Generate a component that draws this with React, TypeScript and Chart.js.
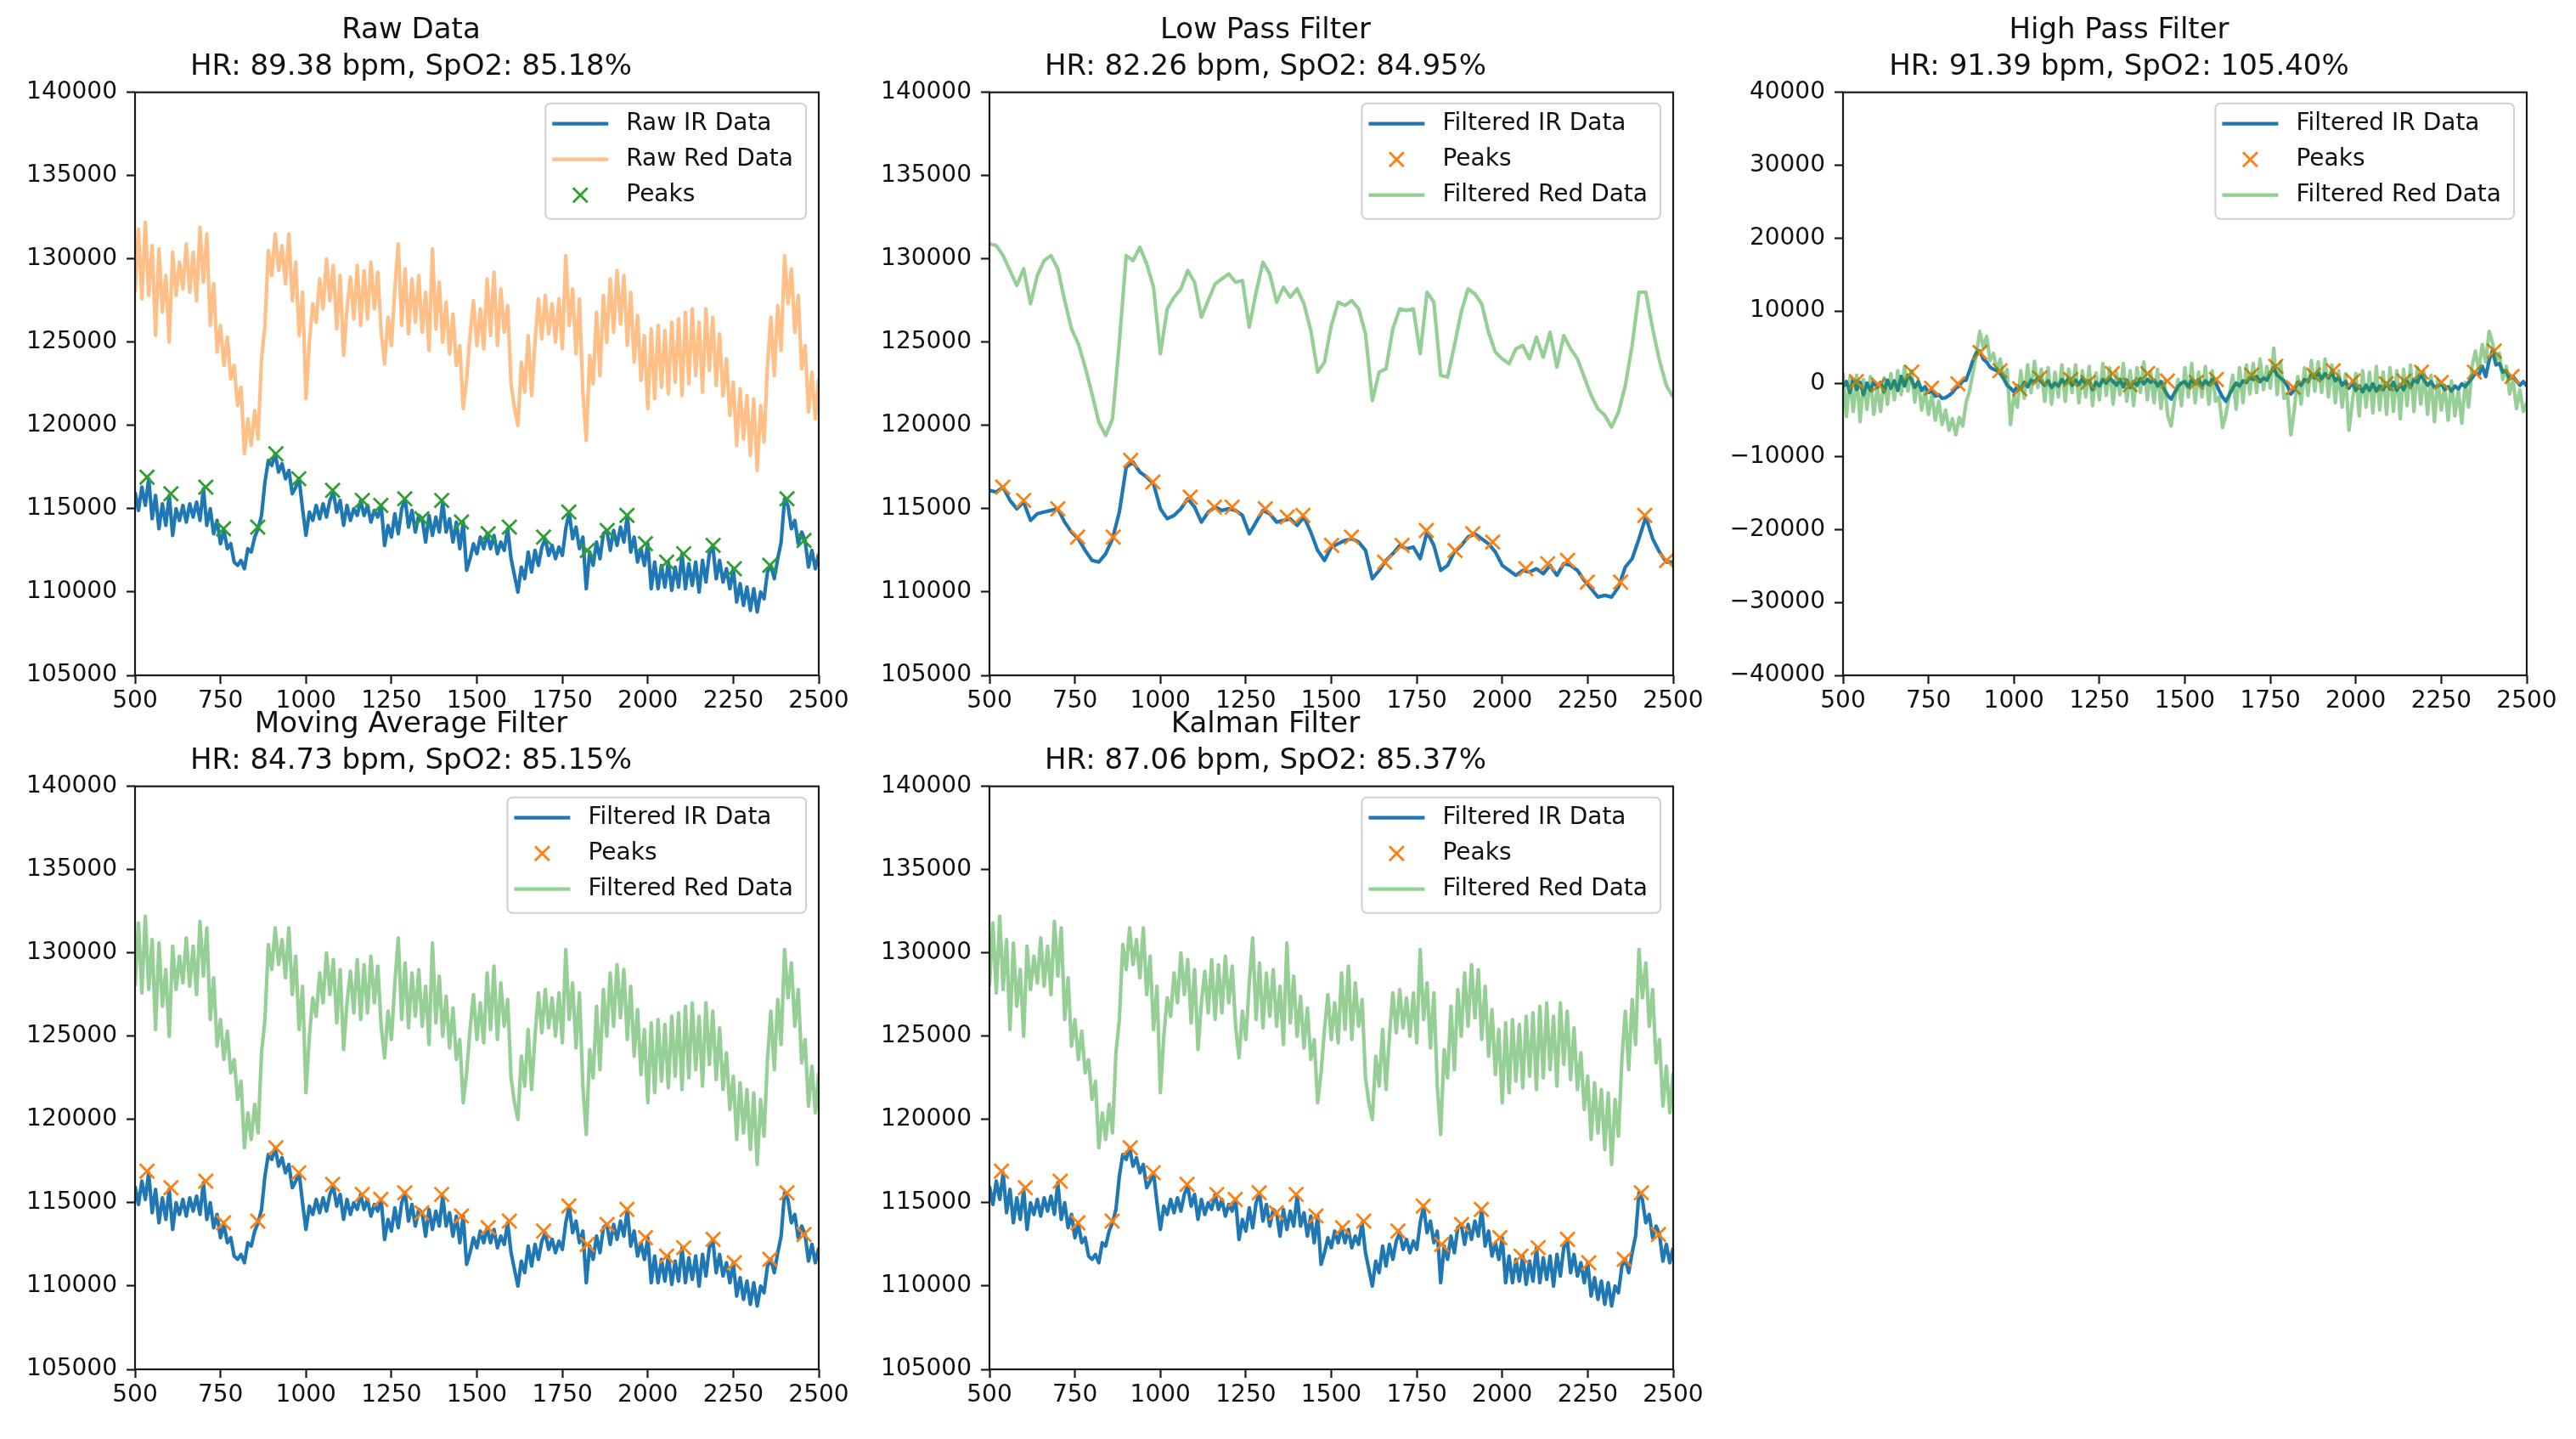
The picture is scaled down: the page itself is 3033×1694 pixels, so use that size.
import { useEffect, useRef } from "react";
import Chart from "chart.js/auto";

const FONT = "'DejaVu Sans', sans-serif";

// sample index of the first stored value
const SAMPLE_START = 500;

// raw IR, one value every 10 samples (500..2500)
const rawIr = [
  116000, 114900, 116300, 115200, 116800, 114400, 115800, 113800, 115300, 114000,
  115800, 113400, 115000, 114300, 115200, 114200, 115300, 114500, 115400, 114300,
  116200, 114000, 115000, 113500, 114300, 112900, 113700, 112600, 112900, 111800,
  111600, 111900, 111400, 112600, 112400, 113300, 113800, 114600, 116600, 117900,
  117600, 118300, 117200, 117700, 116800, 117300, 115900, 116300, 116800, 115000,
  113400, 114800, 114300, 115200, 114400, 115300, 114500, 115500, 116000, 114800,
  115500, 114000, 115200, 114300, 115000, 114600, 115500, 114600, 115200, 114200,
  114900, 114500, 115200, 112800, 114000, 113300, 114700, 113500, 115000, 115600,
  113900, 114900, 113600, 114600, 114400, 113000, 114600, 113400, 114500, 113600,
  115400, 113600, 114400, 113000, 114200, 112600, 114200, 111300, 112000, 112900,
  112300, 113300, 112600, 113500, 112600, 113400, 112300, 113000, 112500, 113800,
  112000, 111000, 110000, 111500, 110800, 112400, 111200, 112500, 111600, 112700,
  113200, 112200, 112800, 112000, 112700, 112200, 113800, 114800, 113200, 113900,
  112600, 113300, 110200, 112400, 111600, 113000, 112000, 113500, 113700, 112500,
  113700, 112800, 113900, 113000, 114600, 112400, 113300, 111800, 112600, 111600,
  112900, 110200, 111800, 110200, 111600, 110300, 111800, 110100, 111500, 110300,
  112300, 110200, 111700, 110400, 111800, 110000, 111900, 110600, 112300, 112800,
  110800, 111900, 110600, 111400, 110200, 111400, 109400, 110500, 109200, 110300,
  108900, 110200, 108800, 110000, 109600, 111200, 111600, 110800, 112000, 113000,
  115600, 115200, 113800, 114300, 112900, 113600, 113100, 111500, 112500, 111400,
  112300,
];

// raw red, one value every 10 samples
const rawRed = [
  128000, 131800, 127600, 132200, 127800, 130800, 125400, 130600, 126800, 129000,
  125000, 130400, 127800, 129800, 128200, 130900, 128000, 130400, 127500, 131900,
  128600, 131500, 126000, 128500, 124400, 126000, 123600, 125300, 122800, 123600,
  121200, 122300, 118300, 120400, 118800, 120900, 119200, 124000, 126000, 130500,
  129000, 131500, 129300, 130800, 128500, 131500, 127500, 129800, 125400, 128000,
  121600, 125000, 127300, 126200, 128800, 127000, 130000, 127500, 129600, 125800,
  129000, 124200, 127000, 128900, 126400, 129600, 126000, 129300, 126400, 129800,
  127000, 129200, 125600, 123700, 126500, 124800, 128200, 130900, 126000, 129400,
  125500, 128800, 126200, 129000, 125600, 128000, 124500, 130600, 125800, 128600,
  125000, 127400, 124300, 126700, 123600, 124800, 121000, 122800, 125400, 127500,
  124800, 127000, 124600, 128800, 125400, 129200, 124800, 128200, 125600, 127200,
  122500, 121000, 120000, 123800, 122000, 125400, 121800, 125000, 127600, 125200,
  127800, 125500, 127300, 125000, 127600, 124600, 130200, 126000, 128200, 124300,
  127600, 122000, 119100, 124200, 122500, 126800, 123000, 127800, 125000, 128800,
  125600, 129300, 126100, 129000, 124800, 128000, 123800, 126600, 122700, 125400,
  121000, 125800, 121600, 126000, 122300, 125700, 121900, 126200, 122600, 126400,
  121800, 126800, 122500, 127000, 123000, 126200, 122000, 127000, 123300, 126500,
  122400, 125500, 121800, 124000, 120600, 122600, 118800, 122200, 119200, 121800,
  118200, 121600, 117300, 121200, 119000, 123600, 126500, 123000, 127200, 124500,
  130200, 127300, 129400, 125600, 127800, 123400, 124800, 120800, 123200, 120400,
  122800,
];

const rawPeakX = [535, 605, 707, 759, 859, 912, 979, 1078, 1165, 1219, 1289, 1339, 1397, 1455, 1533, 1595, 1695, 1769, 1823, 1881, 1939, 1993, 2055, 2105, 2191, 2253, 2357, 2407, 2457];
const rawPeakY = [116900, 115900, 116300, 113800, 113900, 118300, 116800, 116100, 115500, 115200, 115600, 114400, 115500, 114200, 113500, 113900, 113300, 114800, 112500, 113700, 114600, 112900, 111800, 112300, 112800, 111400, 111600, 115600, 113100];

// low pass, one value every 20 samples
const lowIr = [
  116100, 116000, 116300, 115500, 115000, 115400, 114300, 114700, 114800, 114900,
  115000, 114200, 113600, 113200, 112500, 111900, 111800, 112300, 113200, 114800,
  117500, 117800, 117200, 116900, 116500, 115000, 114400, 114600, 115000, 115600,
  115100, 114200, 114800, 115100, 114900, 115000, 114900, 114600, 113500, 114200,
  114900, 114700, 114200, 114300, 114400, 114000, 114500, 113600, 112500, 111900,
  112700, 112900, 113100, 113200, 113000, 112500, 110800, 111300, 111900, 112300,
  112800, 112600, 112700, 112000, 113600, 112800, 111300, 111600, 112400, 112800,
  113300, 113500, 113200, 112900, 112400, 111600, 111300, 111000, 111300, 111200,
  111400, 111100, 111600, 111000, 111700, 111600, 111300, 110700, 110200, 109700,
  109800, 109700, 110300, 111500, 112000, 113200, 114500, 113200, 112400, 111800,
  111800,
];

const lowRed = [
  130900, 130800, 130200, 129300, 128400, 129400, 127300, 129000, 129900, 130200,
  129400, 127500, 125800, 124900, 123500, 121900, 120200, 119400, 120400, 125000,
  130200, 129900, 130700, 129700, 128300, 124300, 127000, 127700, 128200, 129300,
  128600, 126500, 127500, 128500, 128800, 129100, 128600, 128700, 125900, 128000,
  129800, 129100, 127400, 128300, 127700, 128200, 127300, 125700, 123200, 123800,
  126000, 127400, 127200, 127500, 127000, 125500, 121500, 123200, 123400, 125800,
  127000, 126900, 127000, 124300, 128000, 127400, 123000, 122900, 124800, 126800,
  128200, 127900, 127300, 125600, 124400, 124000, 123700, 124600, 124800, 124000,
  125300, 124100, 125600, 123500, 125400, 124600, 124000, 122900, 121800, 121000,
  120600, 119900, 120800, 122400, 124800, 128000, 128000, 125800, 123900, 122400,
  121700,
];

const lowPeakX = [539, 600, 700, 758, 862, 913, 978, 1087, 1158, 1210, 1307, 1371, 1417, 1501, 1559, 1656, 1707, 1778, 1862, 1914, 1972, 2069, 2133, 2191, 2249, 2346, 2417, 2481];
const lowPeakY = [116300, 115500, 115000, 113300, 113300, 117900, 116600, 115700, 115100, 115100, 115000, 114500, 114600, 112800, 113300, 111800, 112800, 113700, 112500, 113500, 113000, 111400, 111700, 111900, 110600, 110600, 114600, 111900];

// high pass, one value every 10 samples
const highIr = [
  -400, 300, -1200, 600, -800, 200, -1500, 100, -900, 300,
  -500, 200, -1100, 500, -600, 400, -900, 1000, -300, 1200,
  600, -500, 300, -900, -400, -1200, -1000, -1700, -1500, -2000,
  -1900, -1600, -1200, -600, -300, 400, 500, 1800, 3200, 4300,
  4500, 3400, 3000, 2300, 2000, 1800, 1400, 700, -200, -600,
  -1100, -300, -700, 200, -400, 500, 200, 800, 300, -200,
  400, -500, 100, -300, 600, 0, 800, -200, 500, -100,
  700, 0, 400, -800, 200, -300, 600, 100, 800, 300,
  -200, 600, -400, 500, -500, 300, -200, 700, 0, 600,
  200, 500, -300, 300, -800, -1600, -2100, -1200, -400, 100,
  300, -400, 500, 0, 600, -300, 400, -100, 600, 200,
  -900, -1800, -2400, -1500, -600, 100, -300, 400, 200, 900,
  600, 1000, 300, 800, 500, 1500, 2200, 1200, 800, 400,
  -300, -1400, -800, 200, -200, 600, 300, 1200, 800, 1500,
  700, 1400, 800, 1600, 400, 900, -200, 300, -600, 200,
  -900, -300, -1100, -200, -900, 0, -1000, -300, -800, 100,
  -700, 200, -900, -100, -800, 300, -500, 600, 200, 1200,
  500, -200, 300, -500, -300, 0, -800, -400, -1000, -300,
  -700, 0, -400, 200, 800, 1500, 1200, 2400, 1000, 3200,
  4600, 2600, 2800, 1600, 1800, 700, 1000, 400, -200, 300,
  -300,
];

const highRed = [
  1500, -4500, 800, -3800, 1200, -5200, 600, -3500, 1000, -4200,
  -500, -3800, 800, -2800, 1400, -2200, 1800, -1500, 2400, -1000,
  1800, -2500, 500, -3600, -800, -4200, -1500, -5000, -2400, -5600,
  -3600, -6400, -4800, -7000, -4600, -5800, -2600, -1000, 1500, 4000,
  7200, 5000, 6500, 3200, 4200, 1800, 3400, 600, 2000, -5600,
  -1500, -3200, 1800, -2000, 2600, -1200, 3100, -500, 2000, -2400,
  2200, -2800, 1600, -1800, 2600, -2400, 2000, -1200, 2600, -2600,
  1800, -1800, 2400, -3000, 1500, -2200, 2800, -1600, 2200, -2800,
  1600, -1500, 2800, -2400, 1800, -3000, 2200, -1200, 3000, -2200,
  1600, -2600, 2000, -3400, 400, -4400, -5800, -2200, 600, -3000,
  2200, -1800, 2800, -2600, 1600, -1800, 2400, -2800, 1800, -2400,
  -1800, -6000, -4200, -1500, 1200, -3500, 2200, -2600, 2600, -1400,
  2800, -1200, 3400, -800, 2400, -600, 4900, -1500, 3000, -2000,
  -1400, -7000, -3600, 1000, -2800, 2200, -1600, 3200, -1000, 3000,
  -1200, 3400, -1800, 2600, -2600, 1800, -3200, 1400, -6400, -2400,
  1400, -4400, 1800, -3200, 1600, -4000, 2400, -3600, 1600, -4200,
  2200, -3800, 1800, -4800, 2000, -3000, 2600, -3800, 2200, -2800,
  1600, -4200, 1200, -5200, 600, -3600, -200, -5000, 400, -4400,
  -800, -5400, 200, -3200, 2400, 4500, 1800, 5400, 3000, 7200,
  5600, 3000, 4200, 600, 2400, -1400, 600, -3400, -800, -3800,
  -2600,
];

const highPeakX = [539, 604, 701, 759, 836, 901, 959, 1017, 1075, 1166, 1217, 1288, 1340, 1391, 1449, 1533, 1592, 1695, 1766, 1817, 1876, 1934, 1992, 2089, 2141, 2192, 2250, 2347, 2405, 2457];
const highPeakY = [300, -150, 1600, -600, 0, 4300, 1800, -700, 800, 600, 200, 1400, -150, 1400, 400, 200, 600, 1200, 2400, -500, 1200, 1800, 400, 0, 400, 1600, 200, 1600, 4500, 1000];

const BLUE = "#1f77b4";
const ORANGE = "#ff7f0e";
const GREEN = "#2ca02c";
const LIGHT_ORANGE = "rgba(255, 127, 14, 0.5)";
const LIGHT_GREEN = "rgba(44, 160, 44, 0.5)";

const PLOT_W = 805;
const PLOT_H = 686;
const Y_AXIS_W = 155;
const X_AXIS_H = 75;
const TITLE_H = 109;
const RIGHT_PAD = 50;

const sampleAxis = (values: number[], step: number) => values.map((_, i) => SAMPLE_START + i * step);

interface Series {
  label: string;
  kind: "line" | "peaks";
  xs: number[];
  ys: number[];
  color: string;
  z: number; // drawing sequence, higher = on top
}

interface PanelProps {
  left: number;
  top: number;
  title: string;
  subtitle: string;
  yMin: number;
  yMax: number;
  yStep: number;
  series: Series[];
}

function tickText(v: number) {
  return v < 0 ? "\u2212" + Math.abs(v) : String(v);
}

function Panel({ left, top, title, subtitle, yMin, yMax, yStep, series }: PanelProps) {
  const chartRef = useRef<HTMLCanvasElement>(null);
  const chartInstance = useRef<Chart | null>(null);

  useEffect(() => {
    if (!chartRef.current) return;
    const maxZ = Math.max(...series.map((s) => s.z));

    const datasets = series.map((s) => ({
      label: s.label,
      data: s.xs.map((x, i) => ({ x, y: s.ys[i] })),
      showLine: s.kind === "line",
      borderColor: s.color,
      backgroundColor: s.color,
      borderWidth: 4.2,
      borderJoinStyle: "round" as const,
      pointRadius: s.kind === "peaks" ? 12 : 0,
      pointStyle: "crossRot" as const,
      pointBorderWidth: 2.8,
      pointBorderColor: s.color,
      tension: 0,
      order: maxZ - s.z,
    }));

    // matplotlib-like frame and legend box
    const framePlugin = {
      id: "frameAndLegend",
      afterDraw(chart: Chart) {
        const { ctx, chartArea: a } = chart;
        ctx.save();
        ctx.strokeStyle = "#1a1a1a";
        ctx.lineWidth = 2.2;
        ctx.strokeRect(a.left, a.top, a.right - a.left, a.bottom - a.top);

        ctx.font = `28px ${FONT}`;
        const textW = Math.max(...series.map((s) => ctx.measureText(s.label).width));
        const boxW = 95 + textW + 15;
        const boxH = 136;
        const bx = a.right - 15 - boxW;
        const by = a.top + 13;
        ctx.beginPath();
        ctx.roundRect(bx, by, boxW, boxH, 6);
        ctx.fillStyle = "rgba(255,255,255,0.8)";
        ctx.fill();
        ctx.strokeStyle = "#d0d0d0";
        ctx.lineWidth = 2;
        ctx.stroke();

        series.forEach((s, i) => {
          const cy = by + 24 + i * 42;
          ctx.strokeStyle = s.color;
          if (s.kind === "line") {
            ctx.lineWidth = 4.2;
            ctx.beginPath();
            ctx.moveTo(bx + 8, cy);
            ctx.lineTo(bx + 74, cy);
            ctx.stroke();
          } else {
            const cx = bx + 41;
            ctx.lineWidth = 2.8;
            ctx.beginPath();
            ctx.moveTo(cx - 8.5, cy - 8.5);
            ctx.lineTo(cx + 8.5, cy + 8.5);
            ctx.moveTo(cx - 8.5, cy + 8.5);
            ctx.lineTo(cx + 8.5, cy - 8.5);
            ctx.stroke();
          }
          ctx.fillStyle = "#111";
          ctx.textBaseline = "middle";
          ctx.textAlign = "left";
          ctx.fillText(s.label, bx + 95, cy);
        });
        ctx.restore();
      },
    };

    if (chartInstance.current) {
      chartInstance.current.destroy();
    }

    const tickFont = { family: FONT, size: 28 };
    const gridOpts = {
      display: true,
      drawOnChartArea: false,
      drawTicks: true,
      tickLength: 10,
      tickWidth: 2.2,
      tickColor: "#1a1a1a",
    };

    chartInstance.current = new Chart(chartRef.current, {
      type: "scatter",
      data: { datasets },
      plugins: [framePlugin],
      options: {
        animation: false,
        responsive: false,
        devicePixelRatio: 1,
        layout: { padding: { left: 0, right: RIGHT_PAD, top: 0, bottom: 0 } },
        plugins: {
          legend: { display: false },
          tooltip: { enabled: false },
          title: {
            display: true,
            text: [title, subtitle],
            color: "#111",
            font: { family: FONT, size: 34, weight: "normal", lineHeight: 1.26 },
            padding: { top: 15, bottom: 8 },
          },
        },
        scales: {
          x: {
            type: "linear",
            min: 500,
            max: 2500,
            grid: gridOpts,
            border: { display: false },
            ticks: {
              stepSize: 250,
              autoSkip: false,
              maxRotation: 0,
              color: "#111",
              font: tickFont,
              padding: 4,
              callback: (v) => tickText(Number(v)),
            },
            afterFit: (s) => {
              s.height = X_AXIS_H;
              s.paddingLeft = 0;
              s.paddingRight = 0;
            },
          },
          y: {
            type: "linear",
            min: yMin,
            max: yMax,
            grid: gridOpts,
            border: { display: false },
            ticks: {
              stepSize: yStep,
              autoSkip: false,
              color: "#111",
              font: tickFont,
              padding: 11,
              callback: (v) => tickText(Number(v)),
            },
            afterFit: (s) => {
              s.width = Y_AXIS_W;
              s.paddingTop = 0;
              s.paddingBottom = 0;
            },
          },
        },
      },
    });

    return () => {
      if (chartInstance.current) {
        chartInstance.current.destroy();
        chartInstance.current = null;
      }
    };
  }, [title, subtitle, yMin, yMax, yStep, series]);

  const w = Y_AXIS_W + PLOT_W + RIGHT_PAD;
  const h = TITLE_H + PLOT_H + X_AXIS_H;
  return (
    <canvas
      ref={chartRef}
      width={w}
      height={h}
      style={{ position: "absolute", left: left - Y_AXIS_W, top: top - TITLE_H, width: w, height: h }}
    />
  );
}

const x10 = sampleAxis(rawIr, 10);
const x20 = sampleAxis(lowIr, 20);

const rawSeries: Series[] = [
  { label: "Raw IR Data", kind: "line", xs: x10, ys: rawIr, color: BLUE, z: 0 },
  { label: "Raw Red Data", kind: "line", xs: x10, ys: rawRed, color: LIGHT_ORANGE, z: 1 },
  { label: "Peaks", kind: "peaks", xs: rawPeakX, ys: rawPeakY, color: GREEN, z: 2 },
];

const lowSeries: Series[] = [
  { label: "Filtered IR Data", kind: "line", xs: x20, ys: lowIr, color: BLUE, z: 0 },
  { label: "Peaks", kind: "peaks", xs: lowPeakX, ys: lowPeakY, color: ORANGE, z: 1 },
  { label: "Filtered Red Data", kind: "line", xs: x20, ys: lowRed, color: LIGHT_GREEN, z: 2 },
];

const highSeries: Series[] = [
  { label: "Filtered IR Data", kind: "line", xs: x10, ys: highIr, color: BLUE, z: 0 },
  { label: "Peaks", kind: "peaks", xs: highPeakX, ys: highPeakY, color: ORANGE, z: 1 },
  { label: "Filtered Red Data", kind: "line", xs: x10, ys: highRed, color: LIGHT_GREEN, z: 2 },
];

// moving average and kalman outputs look the same as the raw traces
const smoothSeries: Series[] = [
  { label: "Filtered IR Data", kind: "line", xs: x10, ys: rawIr, color: BLUE, z: 0 },
  { label: "Peaks", kind: "peaks", xs: rawPeakX, ys: rawPeakY, color: ORANGE, z: 1 },
  { label: "Filtered Red Data", kind: "line", xs: x10, ys: rawRed, color: LIGHT_GREEN, z: 2 },
];

export default function App() {
  return (
    <div style={{ position: "fixed", left: 0, top: 0, width: 3033, height: 1694, background: "#fff", overflow: "hidden" }}>
      <Panel left={159} top={109} title="Raw Data" subtitle="HR: 89.38 bpm, SpO2: 85.18%" yMin={105000} yMax={140000} yStep={5000} series={rawSeries} />
      <Panel left={1165} top={109} title="Low Pass Filter" subtitle="HR: 82.26 bpm, SpO2: 84.95%" yMin={105000} yMax={140000} yStep={5000} series={lowSeries} />
      <Panel left={2170} top={109} title="High Pass Filter" subtitle="HR: 91.39 bpm, SpO2: 105.40%" yMin={-40000} yMax={40000} yStep={10000} series={highSeries} />
      <Panel left={159} top={926} title="Moving Average Filter" subtitle="HR: 84.73 bpm, SpO2: 85.15%" yMin={105000} yMax={140000} yStep={5000} series={smoothSeries} />
      <Panel left={1165} top={926} title="Kalman Filter" subtitle="HR: 87.06 bpm, SpO2: 85.37%" yMin={105000} yMax={140000} yStep={5000} series={smoothSeries} />
    </div>
  );
}
